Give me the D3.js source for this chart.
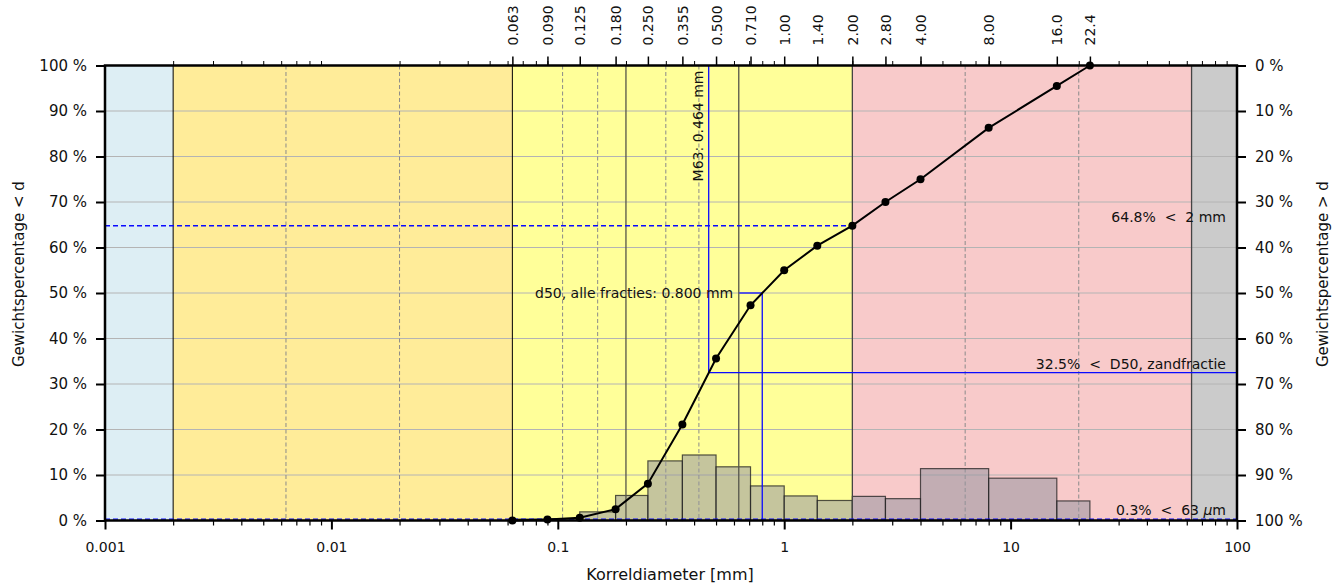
<!DOCTYPE html>
<html>
<head>
<meta charset="utf-8">
<script src="https://cdn.jsdelivr.net/npm/d3@7"></script>
<style>
  html, body { margin: 0; padding: 0; background: #fff; }
  svg { display: block; font-family: "DejaVu Sans", sans-serif; }
</style>
</head>
<body>
<svg id="chart" width="1343" height="587"></svg>
<script>
// ---------- data ----------
const sieveSizes  = [0.063, 0.09, 0.125, 0.18, 0.25, 0.355, 0.5, 0.71, 1.0, 1.4, 2.0, 2.8, 4.0, 8.0, 16.0, 22.4];
const sieveLabels = ["0.063","0.090","0.125","0.180","0.250","0.355","0.500","0.710","1.00","1.40","2.00","2.80","4.00","8.00","16.0","22.4"];
const cumulativePct = [0.0, 0.2, 0.6, 2.5, 8.1, 21.1, 35.6, 47.3, 55.0, 60.4, 64.8, 70.0, 75.0, 86.3, 95.5, 100.0];
const fractionPct   = [0.3, 0.4, 1.9, 5.5, 13.1, 14.4, 11.8, 7.6, 5.4, 4.4, 5.3, 4.8, 11.4, 9.3, 4.3];
const bottomTicks   = [0.001, 0.01, 0.1, 1, 10, 100];
const bottomLabels  = ["0.001", "0.01", "0.1", "1", "10", "100"];
const pctTicks      = [0, 10, 20, 30, 40, 50, 60, 70, 80, 90, 100];
const zoneBounds    = [0.001, 0.002, 0.063, 2, 63, 100];
const solidBounds   = [0.002, 0.063, 0.2, 0.63, 2, 63];
const dashedBounds  = [0.0063, 0.02, 0.105, 0.15, 0.3, 0.42, 6.3, 20];
const d50All   = 0.800;
const m63      = 0.464;
const pctLt2mm = 64.8;
const pctLtD50 = 32.5;
const pctFines = 0.3;

// ---------- styles ----------
const zoneColors = ["#ddeef4", "#ffec99", "#ffff99", "#f8caca", "#cbcbcb"];
const solidColors = ["#000", "#000", "#55554a", "#55554a", "#444", "#444"];
const NB = "\u00a0";

const svg = d3.select("#chart");
const L = 105, R = 1237, T = 65.5, B = 520.5;

const x = d3.scaleLog().domain([0.001, 100]).range([L, R]);
const y = d3.scaleLinear().domain([0, 100]).range([B, T]);
const yR = d3.scaleLinear().domain([100, 0]).range([B, T]);

// zones
svg.append("g").selectAll("rect").data(d3.range(zoneBounds.length - 1)).join("rect")
  .attr("x", i => x(zoneBounds[i]))
  .attr("y", T)
  .attr("width", i => x(zoneBounds[i + 1]) - x(zoneBounds[i]))
  .attr("height", B - T)
  .attr("fill", i => zoneColors[i]);

// horizontal grid
svg.append("g").selectAll("line").data(pctTicks.slice(1, -1)).join("line")
  .attr("x1", L).attr("x2", R)
  .attr("y1", d => y(d)).attr("y2", d => y(d))
  .attr("stroke", "#b4b4b4").attr("stroke-width", 1);

// dashed class lines
svg.append("g").selectAll("line").data(dashedBounds).join("line")
  .attr("x1", d => x(d)).attr("x2", d => x(d))
  .attr("y1", T).attr("y2", B)
  .attr("stroke", "#8a8a8a").attr("stroke-width", 1)
  .attr("stroke-dasharray", "4,2.5");

// histogram bars
svg.append("g").selectAll("rect").data(fractionPct).join("rect")
  .attr("x", (d, i) => x(sieveSizes[i]))
  .attr("y", d => y(d))
  .attr("width", (d, i) => x(sieveSizes[i + 1]) - x(sieveSizes[i]))
  .attr("height", d => B - y(d))
  .attr("fill", "rgba(150,150,160,0.55)")
  .attr("stroke", "rgba(30,30,30,0.75)")
  .attr("stroke-width", 1.2);

// solid class lines
svg.append("g").selectAll("line").data(solidBounds).join("line")
  .attr("x1", d => x(d)).attr("x2", d => x(d))
  .attr("y1", T).attr("y2", B)
  .attr("stroke", (d, i) => solidColors[i])
  .attr("stroke-width", (d, i) => i < 2 ? 1 : 1.3);

// blue helper lines
const blue = "#0a0aff";
svg.append("line") // 64.8% dashed
  .attr("x1", L).attr("x2", x(2))
  .attr("y1", y(pctLt2mm)).attr("y2", y(pctLt2mm))
  .attr("stroke", blue).attr("stroke-width", 1.5).attr("stroke-dasharray", "5,3");
svg.append("line") // fines dashed
  .attr("x1", L).attr("x2", R)
  .attr("y1", y(pctFines)).attr("y2", y(pctFines))
  .attr("stroke", blue).attr("stroke-width", 1.2).attr("stroke-dasharray", "5,3");
// M63 vertical + horizontal
svg.append("line")
  .attr("x1", x(m63)).attr("x2", x(m63))
  .attr("y1", y(100)).attr("y2", y(pctLtD50))
  .attr("stroke", blue).attr("stroke-width", 1.3);
svg.append("line")
  .attr("x1", x(m63)).attr("x2", R)
  .attr("y1", y(pctLtD50)).attr("y2", y(pctLtD50))
  .attr("stroke", blue).attr("stroke-width", 1.3);
// d50 vertical + short horizontal
svg.append("line")
  .attr("x1", x(d50All)).attr("x2", x(d50All))
  .attr("y1", y(0)).attr("y2", y(50))
  .attr("stroke", blue).attr("stroke-width", 1.3);
svg.append("line")
  .attr("x1", x(d50All) - 23).attr("x2", x(d50All))
  .attr("y1", y(50)).attr("y2", y(50))
  .attr("stroke", blue).attr("stroke-width", 1.3);

// cumulative curve
const line = d3.line().x((d, i) => x(sieveSizes[i])).y(d => y(d));
svg.append("path").datum(cumulativePct)
  .attr("d", line).attr("fill", "none")
  .attr("stroke", "#000").attr("stroke-width", 2);
svg.append("g").selectAll("circle").data(cumulativePct).join("circle")
  .attr("cx", (d, i) => x(sieveSizes[i]))
  .attr("cy", d => y(d))
  .attr("r", 4).attr("fill", "#000");

// annotations
const annFont = 14;
svg.append("text")
  .attr("transform", `translate(${x(m63) - 6},${T + 5}) rotate(-90)`)
  .attr("text-anchor", "end")
  .attr("font-size", annFont).attr("fill", "#111")
  .text(`M63:${NB}${m63.toFixed(3)} mm`);
svg.append("text")
  .attr("x", x(d50All) - 29).attr("y", y(50) + 5)
  .attr("text-anchor", "end")
  .attr("font-size", annFont).attr("fill", "#111")
  .text(`d50, alle fracties:${NB}${d50All.toFixed(3)} mm`);
svg.append("text")
  .attr("x", R - 11).attr("y", y(pctLt2mm) - 4)
  .attr("text-anchor", "end")
  .attr("font-size", annFont).attr("fill", "#111")
  .text(`${pctLt2mm.toFixed(1)}%${NB}${NB}<${NB}${NB}2 mm`);
svg.append("text")
  .attr("x", R - 11).attr("y", y(pctLtD50) - 4)
  .attr("text-anchor", "end")
  .attr("font-size", annFont).attr("fill", "#111")
  .text(`${pctLtD50.toFixed(1)}%${NB}${NB}<${NB}${NB}D50, zandfractie`);
const fines = svg.append("text")
  .attr("x", R - 11).attr("y", y(pctFines) - 4)
  .attr("text-anchor", "end")
  .attr("font-size", annFont).attr("fill", "#111");
fines.append("tspan").text(`${pctFines.toFixed(1)}%${NB}${NB}<${NB}${NB}63${NB}`);
fines.append("tspan").attr("font-style", "italic").text("\u03bc");
fines.append("tspan").text("m");

// ---------- axes ----------
const tickFont = 14;
const sideFont = 15;
const minorTicks = [];
for (let e = -3; e < 2; e++) for (let k = 2; k <= 9; k++) minorTicks.push(k * Math.pow(10, e));

// bottom axis
svg.append("g").attr("transform", `translate(0,${B})`)
  .call(d3.axisBottom(x).tickValues(minorTicks).tickSize(5).tickFormat(""))
  .call(g => g.select(".domain").remove())
  .call(g => g.selectAll("line").attr("stroke", "#000").attr("stroke-width", 1.2));
svg.append("g").attr("transform", `translate(0,${B})`)
  .call(d3.axisBottom(x).tickValues(bottomTicks).tickSize(9).tickPadding(13)
    .tickFormat((d, i) => bottomLabels[i]))
  .call(g => g.select(".domain").remove())
  .call(g => g.selectAll("line").attr("stroke", "#000").attr("stroke-width", 2))
  .call(g => g.selectAll("text").attr("font-size", tickFont).attr("fill", "#111")
    .attr("font-family", "DejaVu Sans, sans-serif"));

// top axis
svg.append("g").attr("transform", `translate(0,${T})`)
  .call(d3.axisTop(x).tickValues(minorTicks).tickSize(4.5).tickFormat(""))
  .call(g => g.select(".domain").remove())
  .call(g => g.selectAll("line").attr("stroke", "#000").attr("stroke-width", 1));
const topAx = svg.append("g").attr("transform", `translate(0,${T})`)
  .call(d3.axisTop(x).tickValues(sieveSizes).tickSize(9).tickFormat((d, i) => sieveLabels[i]))
  .call(g => g.select(".domain").remove())
  .call(g => g.selectAll("line").attr("stroke", "#000").attr("stroke-width", 1.5));
topAx.selectAll("text")
  .attr("font-size", tickFont).attr("fill", "#111")
  .attr("font-family", "DejaVu Sans, sans-serif")
  .attr("text-anchor", "start")
  .attr("dy", null)
  .attr("y", null)
  .attr("transform", "translate(5,-20) rotate(-90)");

// left axis
svg.append("g").attr("transform", `translate(${L},0)`)
  .call(d3.axisLeft(y).tickValues(pctTicks).tickSize(9).tickPadding(9)
    .tickFormat(d => `${d} %`))
  .call(g => g.select(".domain").remove())
  .call(g => g.selectAll("line").attr("stroke", "#000").attr("stroke-width", 2))
  .call(g => g.selectAll("text").attr("font-size", sideFont).attr("fill", "#111")
    .attr("font-family", "DejaVu Sans, sans-serif"));

// right axis
svg.append("g").attr("transform", `translate(${R},0)`)
  .call(d3.axisRight(yR).tickValues(pctTicks).tickSize(9).tickPadding(9)
    .tickFormat(d => `${d} %`))
  .call(g => g.select(".domain").remove())
  .call(g => g.selectAll("line").attr("stroke", "#000").attr("stroke-width", 2))
  .call(g => g.selectAll("text").attr("font-size", sideFont).attr("fill", "#111")
    .attr("font-family", "DejaVu Sans, sans-serif"));

// frame
svg.append("rect")
  .attr("x", L).attr("y", T).attr("width", R - L).attr("height", B - T)
  .attr("fill", "none").attr("stroke", "#000").attr("stroke-width", 2.5);

// axis titles
svg.append("text")
  .attr("x", (L + R) / 2 - 1).attr("y", 580)
  .attr("text-anchor", "middle").attr("font-size", 16).attr("fill", "#111")
  .text("Korreldiameter [mm]");
svg.append("text")
  .attr("transform", `translate(24,367) rotate(-90)`)
  .attr("text-anchor", "start").attr("font-size", 15).attr("fill", "#111")
  .text(`Gewichtspercentage${NB}<${NB}d`);
svg.append("text")
  .attr("transform", `translate(1328,367) rotate(-90)`)
  .attr("text-anchor", "start").attr("font-size", 15).attr("fill", "#111")
  .text(`Gewichtspercentage${NB}>${NB}d`);
</script>
</body>
</html>
